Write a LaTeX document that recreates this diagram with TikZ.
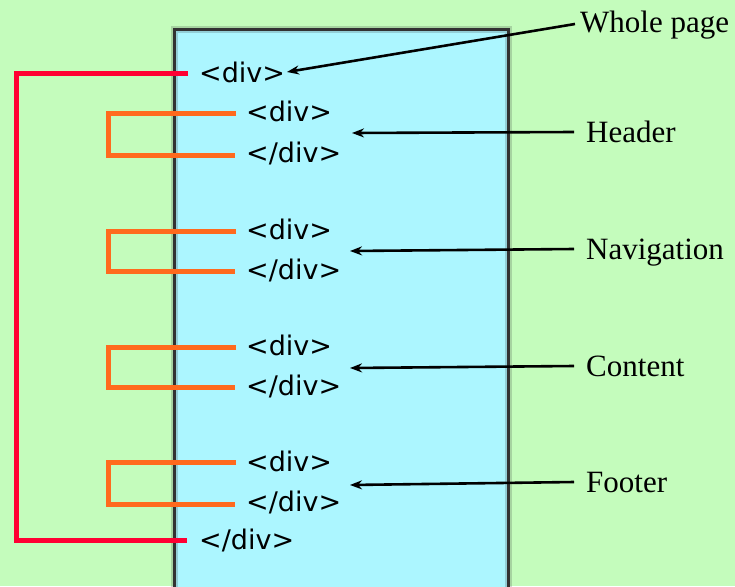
\documentclass[tikz,border=0pt]{standalone}
\usepackage{fontspec}
\setmainfont{Liberation Serif}
\newfontfamily\tagfont{DejaVu Sans}
\usetikzlibrary{arrows.meta}
\definecolor{pagegreen}{RGB}{196,252,188}
\definecolor{docblue}{RGB}{172,246,255}
\definecolor{outerred}{RGB}{255,0,51}
\definecolor{innerorange}{RGB}{255,106,30}
\definecolor{edgegray}{RGB}{50,50,50}
\tikzset{
  tag/.style={anchor=west, inner sep=0pt, font=\tagfont\fontsize{27}{27}\selectfont,
              text height=19pt, text depth=2pt, text=black},
  lbl/.style={anchor=west, inner sep=0pt, font=\fontsize{31}{31}\selectfont,
              text height=21pt, text depth=7pt},
  outerbr/.style={draw=outerred, line width=5pt},
  innerbr/.style={draw=innerorange, line width=5pt},
  pointer/.style={draw=black, line width=2.6pt, -{Stealth[length=12pt,width=9pt]}},
}
\begin{document}
\begin{tikzpicture}[x=1pt,y=-1pt]
  % canvas
  \fill[pagegreen] (0,0) rectangle (735,586);
  \useasboundingbox (0,0) rectangle (735,586);
  % document column with a soft dark edge
  \fill[docblue] (174,30) rectangle (508,600);
  \draw[edgegray, line width=7pt, opacity=0.2] (174,600) -- (174,30) -- (508,30) -- (508,600);
  \draw[edgegray, line width=3pt] (174,600) -- (174,30) -- (508,30) -- (508,600);

  % tags
  \node[tag] (o1) at (199,74)  {<div>};
  \node[tag] (h1) at (246,113) {<div>};
  \node[tag] (h2) at (246,154) {</div>};
  \node[tag] (n1) at (246,231) {<div>};
  \node[tag] (n2) at (246,271) {</div>};
  \node[tag] (c1) at (246,347) {<div>};
  \node[tag] (c2) at (246,387) {</div>};
  \node[tag] (f1) at (246,463) {<div>};
  \node[tag] (f2) at (246,503) {</div>};
  \node[tag] (o2) at (199,541) {</div>};

  % brackets pairing opening and closing tags
  \coordinate (ob1) at (188,73);
  \coordinate (ob2) at (187,540);
  \draw[outerbr] (ob1) -- (16,73) -- (16,540) -- (ob2);
  \foreach \a/\b/\ya/\yb in {h1/h2/113/155, n1/n2/231/271, c1/c2/347/387, f1/f2/462/504}{
    \coordinate (\a e) at (236,\ya);
    \coordinate (\b e) at (235,\yb);
    \draw[innerbr] (\a e) -- (108,\ya) -- (108,\yb) -- (\b e);
  }

  % labels
  \node[lbl] (lw) at (580,26)  {Whole page};
  \node[lbl] (lh) at (586,135) {Header};
  \node[lbl] (ln) at (586,252) {Navigation};
  \node[lbl] (lc) at (586,369) {Content};
  \node[lbl] (lf) at (586,485) {Footer};

  % pointers
  \coordinate (tw) at (287,72);
  \draw[pointer] (lw.west) ++(-5,-2) -- (tw);
  \coordinate (th) at (352,133);
  \coordinate (tn) at (350,251);
  \coordinate (tc) at (350,368);
  \coordinate (tf) at (350,485);
  \draw[pointer] (lh.west) ++(-12,-3) -- (th);
  \draw[pointer] (ln.west) ++(-12,-3) -- (tn);
  \draw[pointer] (lc.west) ++(-12,-3) -- (tc);
  \draw[pointer] (lf.west) ++(-12,-3) -- (tf);
\end{tikzpicture}
\end{document}
